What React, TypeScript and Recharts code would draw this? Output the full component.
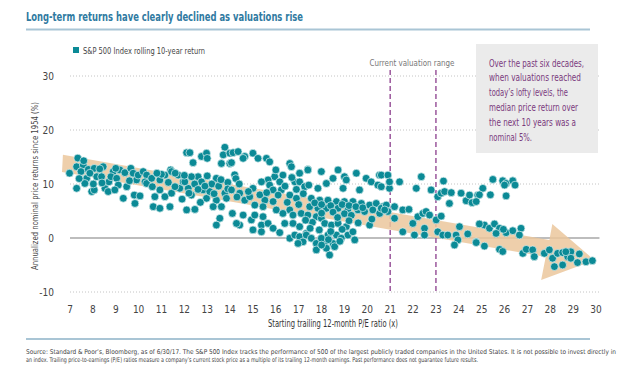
import React from 'react';
import { ScatterChart, Scatter, XAxis, YAxis, ReferenceLine } from 'recharts';

const FONT = "'Liberation Sans Narrow', 'DejaVu Sans Condensed', 'Roboto', sans-serif";
const TEAL = '#0b8a96';
const PURPLE = '#7a3a7d';

const peTicks = [7, 8, 9, 10, 11, 12, 13, 14, 15, 16, 17, 18, 19, 20, 21, 22, 23, 24, 25, 26, 27, 28, 29, 30];
const returnTicks = [-10, 0, 10, 20, 30];
const gridLevels = [-10, 10, 20, 30];
const valuationRange = [21, 23];

// P/E 7-10
const lowPePoints: [number, number][] = [
  [7.34, 14.8], [6.98, 12.0], [7.29, 13.2], [7.58, 13.5], [7.48, 12.3], [7.8, 12.7], [8.06, 12.9], [8.45, 13.2],
  [7.73, 11.05], [8.17, 11.35], [7.87, 12.0], [7.29, 9.2], [7.65, 10.1], [7.95, 8.6], [8.06, 8.9], [8.02, 10.0],
  [8.38, 11.35], [8.53, 9.2], [8.67, 8.6], [8.7, 10.4], [8.89, 12.3], [8.79, 11.35], [9.04, 11.05], [9.11, 9.8],
  [8.96, 8.9], [9.18, 12.6], [9.4, 12.1], [9.33, 7.35], [9.48, 9.5], [9.66, 12.9], [9.76, 12.0], [9.91, 10.75],
  [9.81, 7.95], [10.06, 7.8], [9.84, 6.4], [9.98, 11.65], [10.2, 12.3], [10.35, 11.65], [10.28, 10.4],
  [7.6, 14.3], [8.3, 12.8], [9.0, 12.9], [11.4, 12.6], [8.4, 10.2], [9.6, 10.6], [7.4, 11.0],
];

// P/E 10-14
const midLowPePoints: [number, number][] = [
  [12.1, 15.8], [12.24, 15.8], [12.38, 13.95], [12.75, 15.1], [12.97, 15.7], [13.0, 14.75], [13.77, 16.8],
  [13.7, 15.4], [13.99, 15.7], [13.62, 13.8], [13.99, 13.8],
  [10.35, 10.1], [10.57, 11.05], [10.93, 10.75], [11.15, 11.65], [11.44, 12.3], [11.73, 11.65], [10.93, 8.9],
  [10.71, 7.65], [11.15, 7.65], [11.44, 8.3], [10.64, 5.8], [10.93, 5.5], [11.37, 5.8], [11.8, 9.2], [11.95, 10.4],
  [12.17, 9.2], [12.31, 7.95], [12.1, 5.2], [12.46, 5.3], [12.6, 11.35], [12.75, 10.4], [12.82, 8.9], [12.97, 7.35],
  [13.11, 8.6], [13.4, 11.05], [13.4, 7.0], [13.26, 5.8], [13.62, 5.8], [13.55, 3.65], [13.4, 2.4], [13.77, 8.3],
  [13.84, 7.35], [12.31, 11.35], [12.02, 10.4], [11.59, 9.5],
  [11.0, 11.8], [11.6, 12.0], [12.0, 11.6], [12.45, 10.0], [12.6, 9.0], [13.2, 10.0], [13.5, 9.6], [13.9, 10.3],
  [13.0, 11.5], [11.3, 10.3], [10.6, 9.5], [12.2, 8.3], [13.3, 8.2], [12.7, 6.6], [13.9, 9.1],
  [11.9, 7.2], [12.9, 9.6], [13.6, 10.8], [10.8, 12.0],
];

// P/E 14-17.5
const midPePoints: [number, number][] = [
  [14.13, 15.8], [14.35, 16.0], [14.64, 15.1], [15.0, 15.7], [15.22, 14.75], [15.59, 14.75], [15.73, 14.1],
  [14.06, 13.95], [14.57, 14.75],
  [16.61, 13.8], [16.68, 13.2], [17.04, 12.0], [17.4, 12.7], [16.31, 11.65], [15.95, 11.35], [15.66, 10.75],
  [15.37, 10.4], [15.73, 9.8], [16.17, 10.4], [16.83, 10.4], [17.04, 10.4], [17.26, 9.5], [16.24, 8.9], [15.88, 8.9],
  [16.1, 7.95], [16.61, 7.95], [16.9, 7.35], [14.06, 8.9], [14.42, 8.3], [14.64, 7.0], [14.86, 7.65], [15.08, 6.1],
  [15.52, 7.0], [15.88, 6.75], [14.1, 4.55], [14.42, 2.4], [14.28, 2.7], [14.57, 4.25], [14.93, 3.35], [15.08, 4.25],
  [15.44, 3.95], [15.37, 2.4], [15.66, 2.7], [15.0, 1.5], [15.37, 1.15], [15.88, 1.8], [16.17, 1.0], [16.02, 5.2],
  [16.31, 4.55], [16.61, 5.2], [16.75, 4.25], [17.11, 4.55], [16.39, 2.7], [16.75, 2.7], [17.04, 2.1], [16.61, -0.05],
  [16.83, 0.55], [17.04, 0.25], [17.33, 0.85], [17.19, -0.7], [16.97, -1.0], [15.44, 5.8],
  [14.2, 11.7], [14.25, 11.0], [14.4, 10.0], [15.0, 9.2], [16.4, 9.6], [16.7, 11.2], [16.0, 12.6], [14.8, 8.6],
  [15.3, 8.0], [16.5, 6.6], [17.0, 6.2], [14.3, 7.6], [16.9, 9.0], [17.2, 8.2], [15.6, 8.4],
];

// P/E 17-20.7
const highMidPePoints: [number, number][] = [
  [17.4, 12.6], [17.99, 12.3], [18.72, 12.6], [18.5, 11.05], [18.21, 10.1], [17.84, 9.2], [19.0, 11.35],
  [19.08, 10.75], [18.94, 9.2], [19.52, 12.0], [19.66, 8.9], [19.95, 11.05], [20.17, 10.4], [20.53, 11.65],
  [20.46, 9.8], [17.44, 9.8],
  [17.55, 7.35], [17.92, 7.0], [18.28, 7.0], [18.65, 6.75], [19.0, 6.75], [19.37, 6.75], [19.74, 6.4], [20.1, 6.1],
  [20.39, 6.4], [20.68, 5.8], [17.48, 5.8], [17.84, 5.5], [18.21, 5.5], [18.72, 5.5], [19.15, 5.2], [19.59, 5.2],
  [19.88, 4.9], [20.24, 5.2], [20.54, 4.55], [17.4, 4.25], [17.77, 3.95], [20.1, 2.4], [17.99, 3.65],
  [18.14, 2.7], [18.43, 2.4], [18.72, 2.7], [19.08, 2.1], [19.15, 0.55], [19.37, 1.15], [18.28, 0.55], [18.65, 0.55],
  [18.86, -0.05], [18.14, -0.7], [18.5, -1.0], [17.33, 0.55], [17.55, -0.05], [17.77, -1.0], [17.77, -2.2],
  [18.21, -1.9], [18.35, -3.15], [18.57, -1.6], [17.99, -0.05], [19.45, -0.35],
  [17.7, 6.5], [18.0, 6.2], [18.4, 6.0], [18.9, 6.2], [19.2, 6.0], [19.5, 5.8], [19.8, 5.6], [18.5, 4.8],
  [19.0, 4.5], [19.3, 4.2], [18.0, 4.6], [17.6, 2.9], [17.9, 1.5], [18.4, 1.2], [18.9, 1.6], [19.2, 3.2],
  [18.7, 3.8], [17.5, 1.8], [18.0, -1.3], [18.3, -0.3], [18.8, -0.6], [17.3, 3.3], [19.6, 2.8], [20.2, 3.5],
];

// P/E 20.5-25
const highPePoints: [number, number][] = [
  [20.61, 11.65], [20.9, 11.65], [20.61, 9.5], [20.97, 9.2], [20.97, 10.4], [21.41, 10.4], [22.36, 11.35],
  [22.14, 9.2], [22.79, 8.9], [23.33, 10.55], [23.08, 7.65], [23.23, 8.3], [23.38, 8.6], [23.67, 8.4], [23.59, 6.4],
  [24.1, 8.3], [24.32, 6.9], [24.47, 7.95], [24.58, 6.55], [24.83, 7.95],
  [20.61, 5.5], [20.83, 6.1], [20.9, 4.9], [21.19, 5.8], [21.19, 3.65], [21.55, 5.2], [21.82, 5.3], [21.55, 1.15],
  [21.99, 2.7], [22.06, 0.55], [22.21, 3.95], [22.43, 4.55], [22.5, 1.8], [22.5, 0.55], [22.57, 4.9], [22.72, 4.25],
  [23.01, 3.35], [23.23, 4.05], [23.08, 1.15], [23.3, 0.55], [23.52, 0.55], [23.88, 0.55], [24.03, 2.1],
  [23.96, -0.35], [23.81, -1.3], [24.39, 0.75], [24.76, -0.7], [20.76, 5.2],
];

// P/E 24.5-30
const topPePoints: [number, number][] = [
  [25.49, 10.85], [25.92, 10.6], [26.07, 10.1], [26.36, 10.6], [26.46, 9.8], [26.0, 9.8], [25.05, 9.2],
  [24.9, 8.0], [25.38, 8.0], [26.07, 7.8], [24.76, 6.75],
  [25.12, 2.4], [25.34, 1.8], [25.56, 2.6], [25.78, 1.8], [25.63, 0.85], [26.07, 0.98], [26.36, 1.35],
  [26.72, 1.8], [26.65, 0.55], [24.9, 2.6], [25.95, 1.6],
  [24.76, -0.85], [25.12, -1.5], [25.78, -2.1], [25.92, -2.5], [26.8, -2.85], [26.95, -2.1], [27.23, -2.2],
  [27.3, -3.45], [27.74, -2.85], [27.96, -2.2], [28.1, -3.75], [28.18, -5.3], [28.32, -2.85], [28.54, -2.7],
  [28.54, -5.0], [28.76, -3.45], [28.9, -2.55], [28.9, -3.75], [29.27, -2.95], [29.19, -4.55], [29.56, -4.4],
  [29.84, -4.2], [28.68, -2.55],
];

// trend arrow outline (P/E, return)
const arrowOutline: [number, number][] = [
  [6.69, 15.4], [27.96, -0.37], [28.09, 2.6], [29.93, -4.1], [27.6, -7.8], [27.8, -3.5], [6.65, 12.2],
];

const annotationLines = [
  'Over the past six decades,',
  'when valuations reached',
  'today\u2019s lofty levels, the',
  'median price return over',
  'the next 10 years was a',
  'nominal 5%.',
];
const annotationWidths = [95, 92, 79, 89, 87, 43];

const toRows = (pts: [number, number][]) => pts.map(([pe, ret]) => ({ pe, ret }));
const pointRows = toRows([
  ...lowPePoints, ...midLowPePoints, ...midPePoints, ...highMidPePoints, ...highPePoints, ...topPePoints,
]);
const arrowRows = toRows(arrowOutline);

const Dot = (props: any) => (
  <circle cx={props.cx} cy={props.cy} r={3.9} fill={TEAL} stroke="#dcefef" strokeWidth={0.7} />
);
const NoShape = () => <g />;

export default function App() {
  return (
    <div style={{ position: 'absolute', left: 0, top: 0, width: 628, height: 367, background: '#fff' }}>
      <div style={{ position: 'absolute', left: 0, top: 0 }}>
        <ScatterChart width={628} height={367} margin={{ top: 76, right: 27.4, bottom: 45, left: 0 }}>
          <XAxis
            type="number"
            dataKey="pe"
            domain={[6.65, 30.2]}
            allowDataOverflow
            ticks={peTicks}
            interval={0}
            axisLine={false}
            tickLine={false}
            tickSize={0}
            tickMargin={14}
            height={30}
            tick={{ fill: '#444', fontSize: 10, fontFamily: FONT }}
          />
          <YAxis
            type="number"
            dataKey="ret"
            domain={[-10, 30]}
            allowDataOverflow
            ticks={returnTicks}
            interval={0}
            axisLine={false}
            tickLine={false}
            tickSize={0}
            tickMargin={8}
            width={62}
            tick={{ fill: '#444', fontSize: 10, fontFamily: FONT }}
          />
          {gridLevels.map((v) => (
            <ReferenceLine
              key={v}
              segment={[{ x: 7, y: v }, { x: 30.15, y: v }]}
              stroke="#c4c4c4"
              strokeDasharray="1 2"
              ifOverflow="visible"
            />
          ))}
          <Scatter
            data={arrowRows}
            shape={NoShape}
            line={{ fill: '#ebc79c', fillOpacity: 0.85, stroke: 'none' }}
            lineType="joint"
            isAnimationActive={false}
          />
          <ReferenceLine
            segment={[{ x: 7, y: 0 }, { x: 30.15, y: 0 }]}
            stroke="#bdbdbd"
            strokeWidth={2}
            ifOverflow="visible"
          />
          <Scatter data={pointRows} shape={Dot} isAnimationActive={false} />
          {valuationRange.map((v) => (
            <ReferenceLine
              key={v}
              segment={[{ x: v, y: 31.1 }, { x: v, y: -10 }]}
              stroke="#9b579c"
              strokeWidth={1.5}
              strokeDasharray="5 3"
              ifOverflow="visible"
            />
          ))}
        </ScatterChart>
      </div>
      <svg
        width={628}
        height={367}
        style={{ position: 'absolute', left: 0, top: 0, pointerEvents: 'none' }}
        fontFamily={FONT}
      >
        <text x={26} y={21} fontSize={12.5} fontWeight="bold" fill="#2f7aa1" textLength={277} lengthAdjust="spacingAndGlyphs">
          Long-term returns have clearly declined as valuations rise
        </text>
        <line x1={26} x2={590} y1={29.5} y2={29.5} stroke="#a9c5d5" strokeWidth={2} />
        <rect x={73} y={47} width={6} height={6} fill={TEAL} />
        <text x={83} y={53.5} fontSize={9.5} fill="#444" textLength={122} lengthAdjust="spacingAndGlyphs">
          S&amp;P 500 Index rolling 10-year return
        </text>
        <text
          transform="translate(38,186) rotate(-90)"
          textAnchor="middle"
          fontSize={9.5}
          fill="#444"
          textLength={168}
          lengthAdjust="spacingAndGlyphs"
        >
          Annualized nominal price returns since 1954 (%)
        </text>
        <text x={333} y={327} textAnchor="middle" fontSize={10} fill="#333" textLength={130} lengthAdjust="spacingAndGlyphs">
          Starting trailing 12-month P/E ratio (x)
        </text>
        <text x={412} y={66} textAnchor="middle" fontSize={9.5} fill="#777" textLength={85} lengthAdjust="spacingAndGlyphs">
          Current valuation range
        </text>
        <rect x={476} y={44} width={122} height={109} fill="#ebebeb" />
        {annotationLines.map((t, i) => (
          <text
            key={t}
            x={489}
            y={66.5 + i * 14.8}
            fontSize={10.5}
            fill={PURPLE}
            textLength={annotationWidths[i]}
            lengthAdjust="spacingAndGlyphs"
          >
            {t}
          </text>
        ))}
        <line x1={26} x2={590} y1={339} y2={339} stroke="#a9c5d5" strokeWidth={2} />
        <text x={26} y={353.5} fontSize={6.6} fill="#444" textLength={590} lengthAdjust="spacingAndGlyphs">
          Source: Standard &amp; Poor’s, Bloomberg, as of 6/30/17. The S&amp;P 500 Index tracks the performance of 500 of the largest publicly traded companies in the United States. It is not possible to invest directly in
        </text>
        <text x={26} y={361.5} fontSize={6.6} fill="#444" textLength={452} lengthAdjust="spacingAndGlyphs">
          an index. Trailing price-to-earnings (P/E) ratios measure a company’s current stock price as a multiple of its trailing 12-month earnings. Past performance does not guarantee future results.
        </text>
      </svg>
    </div>
  );
}
